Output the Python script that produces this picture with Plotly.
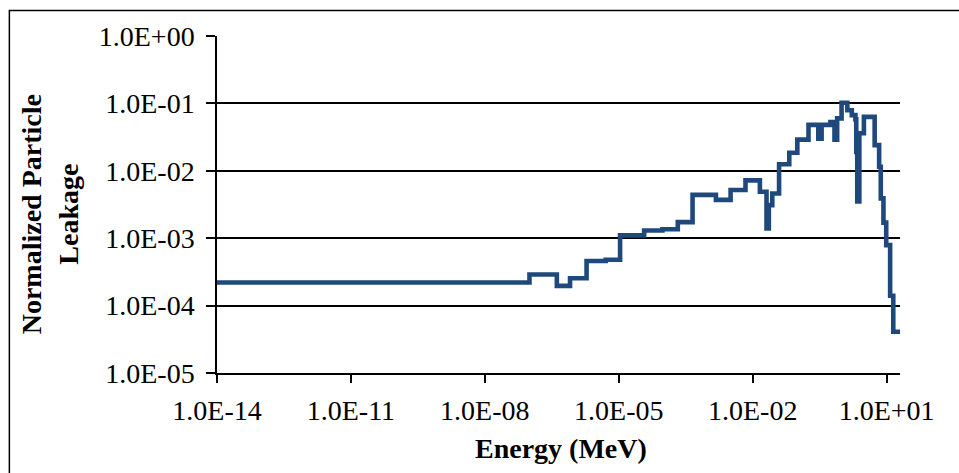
import plotly.graph_objects as go

# Energy bin edges (MeV) and leakage values per bin
energy_edges = [1e-14, 1.0e-7, 4.1e-7, 8.1e-7, 1.9e-6, 5.1e-6, 1.07e-5, 3.7e-5, 9.5e-5,
                2.1e-4, 4.5e-4, 1.5e-3, 3.2e-3, 6.9e-3, 1.45e-2, 2.04e-2, 2.3e-2, 2.75e-2,
                3.9e-2, 6.6e-2, 0.10, 0.178, 0.295, 0.35, 0.55, 0.68, 0.78, 0.98, 1.32,
                1.66, 2.0, 2.09, 2.2, 2.45, 3.1, 5.4, 6.8, 7.4, 8.5, 9.8, 12.0, 14.1, 20.0]
leakage = [2.2e-4, 2.9e-4, 1.96e-4, 2.55e-4, 4.6e-4, 4.8e-4, 1.1e-3, 1.3e-3, 1.36e-3,
           1.73e-3, 4.4e-3, 3.7e-3, 5.2e-3, 7.2e-3, 4.9e-3, 1.4e-3, 3.1e-3, 4.6e-3,
           1.25e-2, 1.85e-2, 2.9e-2, 4.8e-2, 3.0e-2, 4.8e-2, 5.3e-2, 2.9e-2, 6.0e-2,
           0.102, 7.9e-2, 6.7e-2, 5.8e-2, 1.9e-2, 3.5e-3, 3.6e-2, 6.3e-2, 2.4e-2,
           1.15e-2, 3.9e-3, 1.7e-3, 7.9e-4, 1.4e-4, 4.1e-5]

x_tickvals = [1e-14, 1e-11, 1e-8, 1e-5, 1e-2, 1e1]
x_ticktext = ["1.0E-14", "1.0E-11", "1.0E-08", "1.0E-05", "1.0E-02", "1.0E+01"]
y_tickvals = [1e-5, 1e-4, 1e-3, 1e-2, 1e-1, 1e0]
y_ticktext = ["1.0E-05", "1.0E-04", "1.0E-03", "1.0E-02", "1.0E-01", "1.0E+00"]

x_title = "Energy (MeV)"
y_title_lines = ["Normalized Particle", "Leakage"]

FONT = "Liberation Serif, Times New Roman, serif"

fig = go.Figure()
fig.add_trace(go.Scatter(
    x=energy_edges,
    y=leakage + [leakage[-1]],
    mode="lines",
    line=dict(color="#1F497D", width=4.6, shape="hv"),
    showlegend=False,
    hoverinfo="skip",
))

fig.update_layout(
    width=959, height=473,
    margin=dict(l=216.7, r=59, t=35.7, b=99.7),
    paper_bgcolor="white", plot_bgcolor="white",
    font=dict(family=FONT, color="black", size=28),
    xaxis=dict(
        type="log", range=[-14, 1.3],
        tickvals=x_tickvals, ticktext=x_ticktext,
        showgrid=False, zeroline=False,
        showline=True, linecolor="black", linewidth=1.5,
        ticks="outside", ticklen=8, tickwidth=1.5, tickcolor="black",
        tickfont=dict(family=FONT, size=28, color="black"),
        ticklabelstandoff=4,
    ),
    yaxis=dict(
        type="log", range=[-5, 0],
        tickvals=y_tickvals, ticktext=y_ticktext,
        showgrid=True, gridcolor="black", gridwidth=1.6,
        zeroline=False,
        showline=True, linecolor="black", linewidth=1.5,
        ticks="outside", ticklen=9, tickwidth=1.5, tickcolor="black",
        tickfont=dict(family=FONT, size=28, color="black"),
        ticklabelstandoff=6,
    ),
    annotations=[
        dict(text="<b>" + x_title + "</b>", xref="paper", yref="paper",
             x=0.504, y=-0.224, xanchor="center", yanchor="middle",
             showarrow=False, font=dict(family=FONT, size=28, color="black")),
        dict(text="<br>".join("<b>" + s + "</b>" for s in y_title_lines),
             xref="paper", yref="paper",
             x=-0.244, y=0.472, xanchor="center", yanchor="middle", textangle=-90,
             showarrow=False, font=dict(family=FONT, size=28, color="black")),
    ],
    shapes=[
        dict(type="rect", xref="paper", yref="paper",
             x0=-0.304, x1=1.3, y0=-0.6, y1=1.076,
             line=dict(color="black", width=1.5), fillcolor="rgba(0,0,0,0)", layer="below"),
    ],
)

fig.write_html("out.html")
